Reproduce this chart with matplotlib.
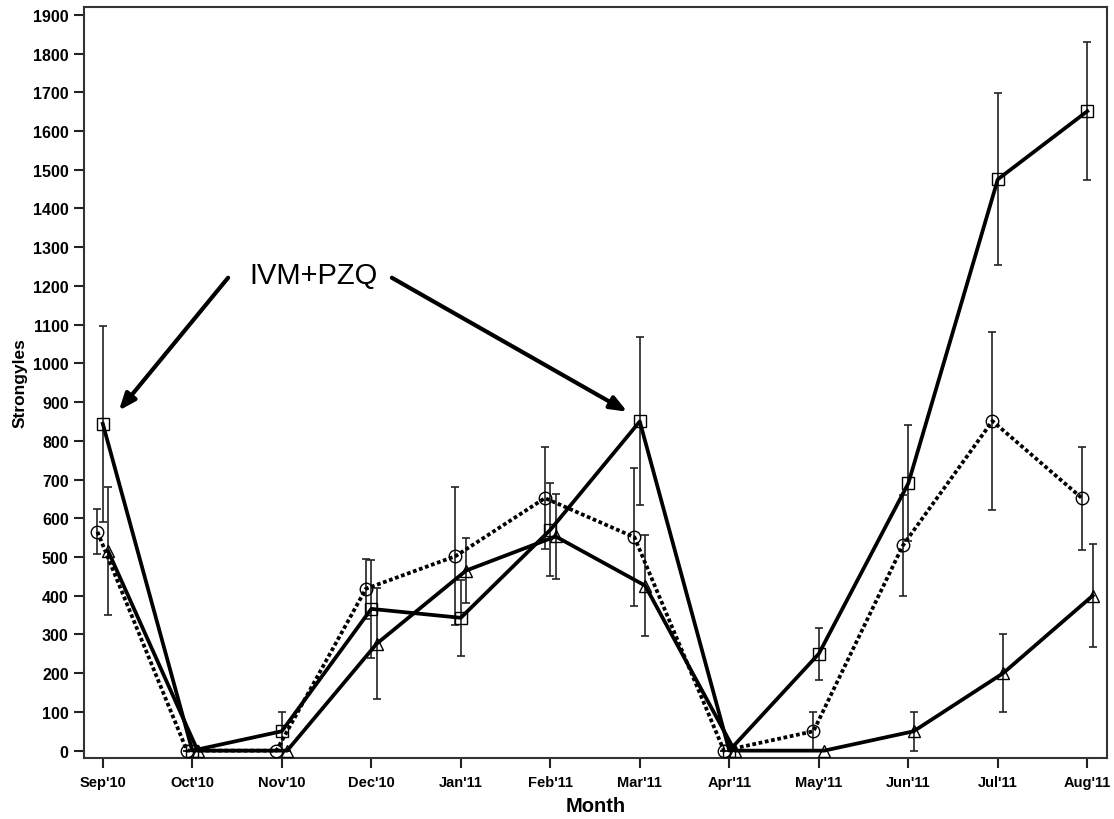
import matplotlib
matplotlib.use("Agg")
import matplotlib.pyplot as plt
import numpy as np

months = ["Sep'10", "Oct'10", "Nov'10", "Dec'10", "Jan'11", "Feb'11",
          "Mar'11", "Apr'11", "May'11", "Jun'11", "Jul'11", "Aug'11"]

# Square series (solid)
sq_mean = [844, 0, 50, 366, 343, 570, 850, 0, 250, 690, 1475, 1651]
sq_low  = [590, 0, 0, 240, 245, 450, 633, 0, 183, 540, 1253, 1473]
sq_high = [1096, 0, 100, 492, 441, 690, 1068, 0, 317, 842, 1699, 1830]

# Circle series (dotted)
ci_mean = [565, 0, 0, 418, 502, 652, 551, 0, 50, 530, 851, 652]
ci_low  = [507, 0, 0, 341, 325, 520, 373, 0, 0, 400, 622, 519]
ci_high = [624, 0, 0, 495, 680, 784, 730, 0, 100, 660, 1080, 784]

# Triangle series (solid)
tr_mean = [515, 0, 0, 276, 465, 553, 426, 0, 0, 50, 200, 400]
tr_low  = [349, 0, 0, 134, 380, 443, 296, 0, 0, 0, 100, 267]
tr_high = [681, 0, 0, 420, 548, 662, 556, 0, 0, 100, 300, 533]

yticks = list(range(0, 2000, 100))

plt.rcParams['font.family'] = ['Liberation Sans', 'DejaVu Sans']

fig = plt.figure(figsize=(11.14, 8.2), dpi=100)
ax = fig.add_axes([0.0754, 0.0744, 0.9183, 0.9158])

x = np.arange(len(months))

def draw(offset, mean, low, high, marker, ls):
    m = np.array(mean, float)
    err = np.vstack([m - np.array(low, float), np.array(high, float) - m])
    xx = x + offset
    ax.errorbar(xx, m, yerr=err, fmt='none', ecolor='#222222', elinewidth=1.2,
                capsize=3.2, capthick=1.2, zorder=2)
    ax.plot(xx, m, color='black', lw=2.7, linestyle=ls, zorder=3,
            marker=marker, markersize=9, markerfacecolor='none',
            markeredgecolor='black', markeredgewidth=1.0)

draw(-0.06, ci_mean, ci_low, ci_high, 'o', (0, (1.0, 0.7)))
draw(0.0, sq_mean, sq_low, sq_high, 's', '-')
draw(0.06, tr_mean, tr_low, tr_high, '^', '-')

ax.set_xlim(-0.21, 11.22)
ax.set_ylim(-19, 1920)
ax.set_xticks(x)
ax.set_xticklabels(months, fontsize=10.5, fontweight='bold')
ax.set_yticks(yticks)
ax.set_yticklabels([str(v) for v in yticks], fontsize=11.5, fontweight='bold')
ax.tick_params(direction='out', length=7, width=1.5, color='#222222', pad=4)
ax.tick_params(axis='x', pad=5)
for s in ax.spines.values():
    s.set_linewidth(1.5)
    s.set_color('#333333')

ax.set_xlabel('Month', fontsize=14.5, fontweight='bold', labelpad=5)
ax.set_ylabel('Strongyles', fontsize=12.5, fontweight='bold', labelpad=4)

ax.text(2.35, 1227, 'IVM+PZQ', fontsize=21, ha='center', va='center')
arrowprops = dict(arrowstyle='-|>,head_length=1.0,head_width=0.4', lw=3,
                  color='black', shrinkA=0, shrinkB=0)
ax.annotate('', xy=(0.18, 878), xytext=(1.40, 1221), arrowprops=arrowprops)
ax.annotate('', xy=(5.86, 875), xytext=(3.23, 1221), arrowprops=arrowprops)

fig.savefig('out.png', dpi=100)
